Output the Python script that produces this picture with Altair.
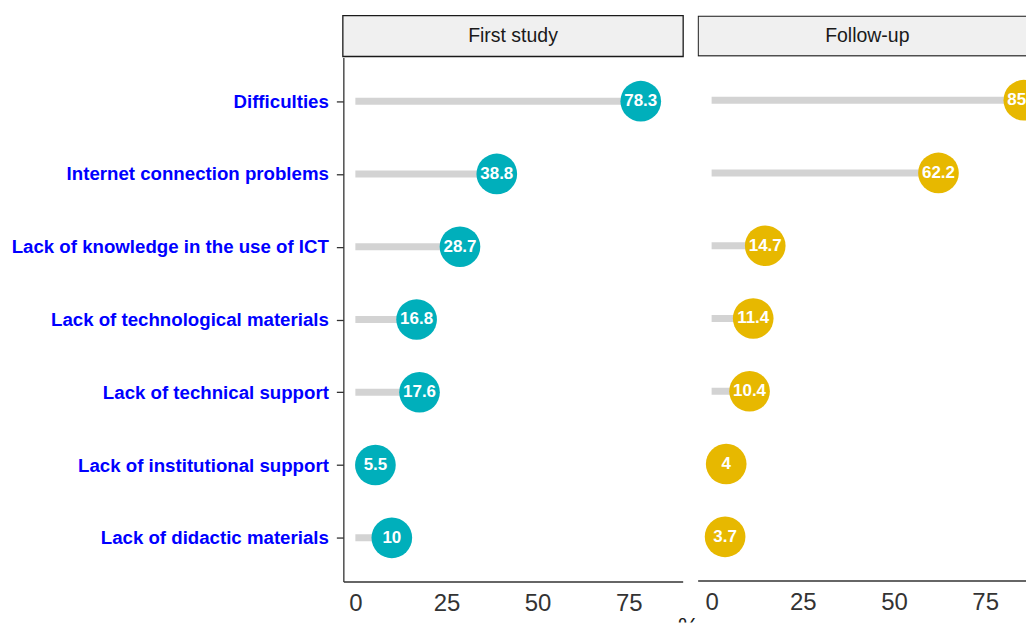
import altair as alt
import pandas as pd

categories = [
    "Difficulties",
    "Internet connection problems",
    "Lack of knowledge in the use of ICT",
    "Lack of technological materials",
    "Lack of technical support",
    "Lack of institutional support",
    "Lack of didactic materials",
]
first_values = [78.3, 38.8, 28.7, 16.8, 17.6, 5.5, 10]
followup_values = [85.6, 62.2, 14.7, 11.4, 10.4, 4, 3.7]
panel_titles = ["First study", "Follow-up"]
panel_colors = ["#00AFBB", "#E7B800"]
x_ticks = [0, 25, 50, 75]
axis_title = "%"

FONT = "Liberation Sans"
PLOT_H = 525
STRIP_H = 41


def fmt(v):
    return f"{v:g}"


def panel(values, title, color, width, domain, show_y, clip):
    df = pd.DataFrame({
        "cause": categories,
        "value": values,
        "zero": [0] * len(values),
        "label": [fmt(v) for v in values],
    })
    if show_y:
        yaxis = alt.Axis(
            title=None, labelColor="#0000FF", labelFont=FONT, labelFontSize=18.7,
            labelFontWeight="bold", labelPadding=8, tickSize=7, tickColor="#333333",
            tickWidth=1.3, domainColor="#333333", domainWidth=1.3, labelLimit=400,
            grid=False,
        )
    else:
        yaxis = None
    xaxis = alt.Axis(
        title=None, values=x_ticks, labelFont=FONT, labelFontSize=24,
        labelColor="#333333", ticks=False, labelPadding=10, domainColor="#333333",
        domainWidth=1.3, grid=False, labelFlush=False,
    )
    xs = alt.Scale(domain=domain, nice=False, zero=False)
    Y = alt.Y("cause:N", sort=categories, scale=alt.Scale(type="point", padding=0.6), axis=yaxis)
    base = alt.Chart(df)
    rule = base.mark_rule(color="#D3D3D3", strokeWidth=7, clip=clip).encode(
        x=alt.X("zero:Q", scale=xs, axis=xaxis), x2="value:Q", y=Y
    )
    dots = base.mark_circle(size=1660, color=color, opacity=1, clip=clip).encode(
        x=alt.X("value:Q", scale=xs, axis=xaxis), y=Y
    )
    labels = base.mark_text(color="white", font=FONT, fontSize=17, fontWeight="bold", clip=clip).encode(
        x=alt.X("value:Q", scale=xs, axis=xaxis), y=Y, text="label:N"
    )
    plot = alt.layer(rule, dots, labels).properties(width=width, height=PLOT_H)

    sdf = pd.DataFrame({"t": [title]})
    srect = alt.Chart(sdf).mark_rect(fill="#F0F0F0", stroke="#1a1a1a", strokeWidth=1.3, clip=clip).encode(
        x=alt.value(0.5 if clip else -0.5), x2=alt.value(width + (20 if clip else 0.5)),
        y=alt.value(0.5 if clip else 0), y2=alt.value(STRIP_H - (0.5 if clip else 0))
    )
    stext = alt.Chart(sdf).mark_text(font=FONT, fontSize=19.5, color="#1a1a1a").encode(
        x=alt.value(170), y=alt.value(STRIP_H / 2), text="t:N"
    )
    strip = alt.layer(srect, stext).properties(width=width, height=STRIP_H)
    return alt.vconcat(strip, plot, spacing=0)


left = panel(first_values, panel_titles[0], panel_colors[0], 340, [-3.3, 89.8], True, False)
right = panel(followup_values, panel_titles[1], panel_colors[1], 329, [-3.83, 86.2], False, True)

pct = alt.Chart(pd.DataFrame({"t": [axis_title]})).mark_text(
    font=FONT, fontSize=24, color="#1a1a1a", baseline="top", align="center", clip=True
).encode(x=alt.value(346), y=alt.value(1), text="t:N").properties(width=360, height=7)

chart = alt.vconcat(
    alt.hconcat(left, right, spacing=13), pct, spacing=0
).properties(
    padding={"left": 3, "top": 6, "right": 0, "bottom": 0}
).configure(background="white").configure_view(stroke=None)

chart.save("out.html", embed_options={"renderer": "svg", "actions": False})
